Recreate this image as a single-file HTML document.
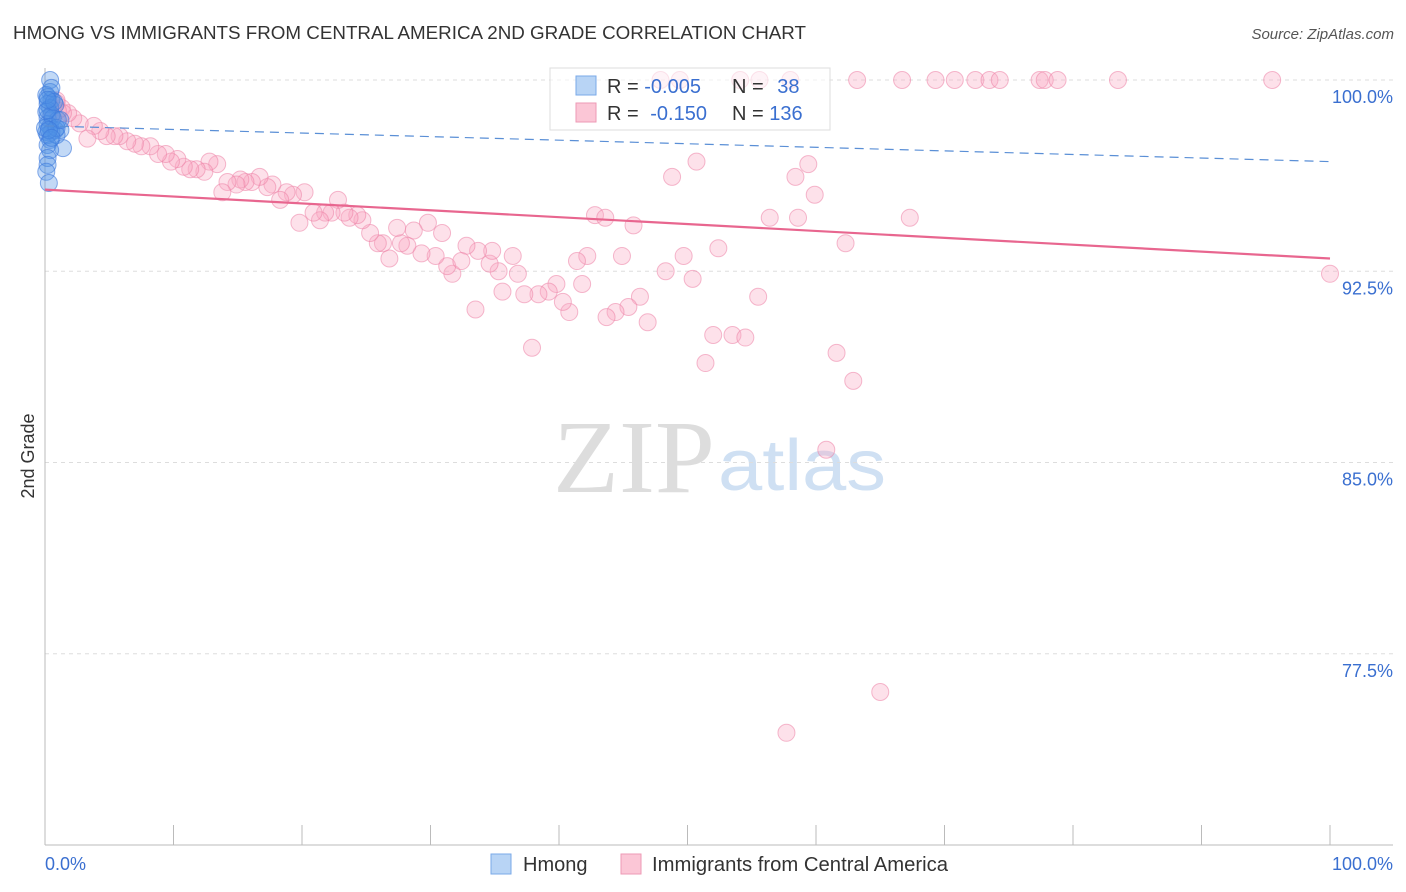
<!DOCTYPE html>
<html><head><meta charset="utf-8"><style>
body{margin:0;background:#fff;font-family:"Liberation Sans",sans-serif;}
svg{display:block}
</style></head><body>
<svg id="chart" width="1406" height="892" xmlns="http://www.w3.org/2000/svg">
<text x="13" y="39" font-size="18" fill="#333" textLength="793" lengthAdjust="spacingAndGlyphs">HMONG VS IMMIGRANTS FROM CENTRAL AMERICA 2ND GRADE CORRELATION CHART</text>
<text x="1394" y="39" font-size="15" fill="#555" font-style="italic" text-anchor="end">Source: ZipAtlas.com</text>
<text x="553" y="492" font-size="104" fill="#ddd" font-family="Liberation Serif,serif" textLength="162" lengthAdjust="spacingAndGlyphs">ZIP</text>
<text x="718" y="490" font-size="72" fill="#cfe0f3" textLength="168" lengthAdjust="spacingAndGlyphs">atlas</text>
<text transform="translate(34,456) rotate(-90)" font-size="18" fill="#333" text-anchor="middle">2nd Grade</text>
<g id="grid"></g><g id="marks"></g>
<g>
<rect x="550" y="68" width="280" height="62" fill="rgba(255,255,255,0.6)" stroke="#ddd"/>
<rect x="576" y="76" width="20" height="19" fill="#b8d4f5" stroke="#7aaae8"/>
<rect x="576" y="103" width="20" height="19" fill="#fbc6d6" stroke="#ee9ab5"/>
<text x="607" y="93" font-size="20" fill="#333">R = <tspan fill="#3a6fd0">-0.005</tspan></text>
<text x="732" y="93" font-size="20" fill="#333">N = <tspan fill="#3a6fd0" dx="8">38</tspan></text>
<text x="607" y="120" font-size="20" fill="#333">R = <tspan fill="#3a6fd0" dx="6">-0.150</tspan></text>
<text x="732" y="120" font-size="20" fill="#333">N = <tspan fill="#3a6fd0">136</tspan></text>
</g>
<g>
<rect x="491" y="854" width="20" height="20" fill="#b8d4f5" stroke="#7aaae8"/>
<text x="523" y="871" font-size="20" fill="#333">Hmong</text>
<rect x="621" y="854" width="20" height="20" fill="#fbc6d6" stroke="#ee9ab5"/>
<text x="652" y="871" font-size="20" fill="#333" textLength="296" lengthAdjust="spacingAndGlyphs">Immigrants from Central America</text>
</g>
<text x="45" y="870" font-size="18" fill="#3a6fd0">0.0%</text>
<text x="1393" y="870" font-size="18" fill="#3a6fd0" text-anchor="end">100.0%</text>
</svg>
<script>
const yTicks=[100,92.5,85,77.5];
const yTickLabels=["100.0%","92.5%","85.0%","77.5%"];
const hmongX=[0.4,0.4,0.2,0.5,0.2,0.8,0.4,0.1,0.5,0.2,1.0,0.2,0.4,0.8,1.2,0.1,0.5,0.2,0.9,1.4,0.4,0.2,0.4,0.2,0.2,0.1,0.3,0.6,0,0.9,1.2,0.2,0.1,0.5,0.7,0.3,0.5,0.2];
const hmongY=[100,99.53,99.33,99.22,99.06,99.02,98.9,98.75,98.63,98.51,98.43,98.27,98.16,98.04,98.04,97.96,97.96,97.84,97.84,97.33,97.65,97.45,97.25,96.94,96.67,96.4,95.96,98.51,98.12,98.12,98.43,98.82,99.41,99.69,99.14,98.04,97.73,99.22];
const immX=[47.9,49.4,54.1,55.6,58.0,63.2,66.7,69.3,70.8,72.4,73.5,74.3,77.4,77.8,78.8,83.5,95.5,100,50.7,48.8,59.4,58.4,59.9,67.3,56.4,58.6,42.8,43.6,45.8,62.3,52.4,49.7,48.3,50.4,44.9,42.2,41.4,41.8,55.5,46.3,45.4,44.4,43.7,46.9,40.8,40.3,39.8,39.2,38.4,37.3,35.6,36.8,35.3,34.6,36.4,34.8,33.7,32.8,33.5,37.9,31.7,31.3,32.4,30.4,29.3,30.9,29.8,28.7,28.2,27.7,27.4,26.8,26.3,25.9,25.3,24.7,24.3,23.7,23.3,22.8,22.3,21.8,21.4,20.9,19.8,20.2,19.3,18.8,18.3,17.7,17.3,16.7,16.1,15.6,15.2,14.9,14.2,13.8,13.4,12.8,12.4,11.8,11.3,10.8,10.3,9.8,9.4,8.8,8.2,7.5,7.0,6.4,5.8,5.4,4.8,4.3,3.8,3.3,2.7,2.2,1.8,1.3,0.9,0.5,0.9,1.4,60.8,65.0,57.7,61.6,62.9,51.4,52.0,53.5,54.5,1.0];
const immY=[100,100,100,100,100,100,100,100,100,100,100,100,100,100,100,100,100,92.4,96.8,96.2,96.7,96.2,95.5,94.6,94.6,94.6,94.7,94.6,94.3,93.6,93.4,93.1,92.5,92.2,93.1,93.1,92.9,92.0,91.5,91.5,91.1,90.9,90.7,90.5,90.9,91.3,92.0,91.7,91.6,91.6,91.7,92.4,92.5,92.8,93.1,93.3,93.3,93.5,91.0,89.5,92.4,92.7,92.9,93.1,93.2,94.0,94.4,94.1,93.5,93.6,94.2,93.0,93.6,93.6,94.0,94.5,94.7,94.6,94.8,95.3,94.8,94.8,94.5,94.8,94.4,95.6,95.5,95.6,95.3,95.9,95.8,96.2,96.0,96.0,96.1,95.9,96.0,95.6,96.7,96.8,96.4,96.5,96.5,96.6,96.9,96.8,97.1,97.1,97.4,97.4,97.5,97.6,97.8,97.8,97.8,98.0,98.2,97.7,98.3,98.5,98.7,98.9,99.1,98.6,99.2,98.7,85.5,76.0,74.4,89.3,88.2,88.9,90.0,90.0,89.9,98.8];
const hmongTrend=[98.2,96.8];
const immTrend=[95.7,93.0];
const NS="http://www.w3.org/2000/svg";
const xs=v=>45+v*12.85;
const ys=v=>80+(100-v)*25.5;
function mk(tag,attrs,parent){const e=document.createElementNS(NS,tag);for(const k in attrs)e.setAttribute(k,attrs[k]);parent.appendChild(e);return e;}
const grid=document.getElementById('grid'),marks=document.getElementById('marks');
yTicks.forEach((t,i)=>{
  const l=mk('line',{x1:45,x2:1393,y1:ys(t),y2:ys(t),stroke:'#ddd','stroke-dasharray':'4,4'},grid);
  
  
  const tx=mk('text',{x:1393,y:ys(t)+23,'font-size':18,fill:'#3a6fd0','text-anchor':'end'},grid);
  tx.textContent=yTickLabels[i];
  
  
});
const ax=mk('line',{x1:45,x2:1393,y1:845,y2:845,stroke:'#bbb'},grid);


const ay=mk('line',{x1:45,x2:45,y1:68,y2:845,stroke:'#bbb'},grid);


for(let i=1;i<=10;i++){
  const t=mk('line',{x1:xs(i*10),x2:xs(i*10),y1:825,y2:845,stroke:'#bbb'},grid);
  
  
}
immX.forEach((x,i)=>{
  const c=mk('circle',{cx:xs(x),cy:ys(immY[i]),r:8.5,fill:'rgba(248,170,195,0.35)',stroke:'rgba(236,130,165,0.55)','stroke-width':1},marks);
  
  
});
hmongX.forEach((x,i)=>{
  const c=mk('circle',{cx:xs(x),cy:ys(hmongY[i]),r:8.5,fill:'rgba(80,145,230,0.35)',stroke:'rgba(60,120,220,0.6)','stroke-width':1},marks);
  
  
});
const t1=mk('line',{x1:xs(0),x2:xs(100),y1:ys(immTrend[0]),y2:ys(immTrend[1]),stroke:'#e8668f','stroke-width':2.2},marks);


const t2=mk('line',{x1:xs(0),x2:xs(100),y1:ys(hmongTrend[0]),y2:ys(hmongTrend[1]),stroke:'#5a8fd6','stroke-width':1.2,'stroke-dasharray':'9,6'},marks);


</script>
</body></html>
